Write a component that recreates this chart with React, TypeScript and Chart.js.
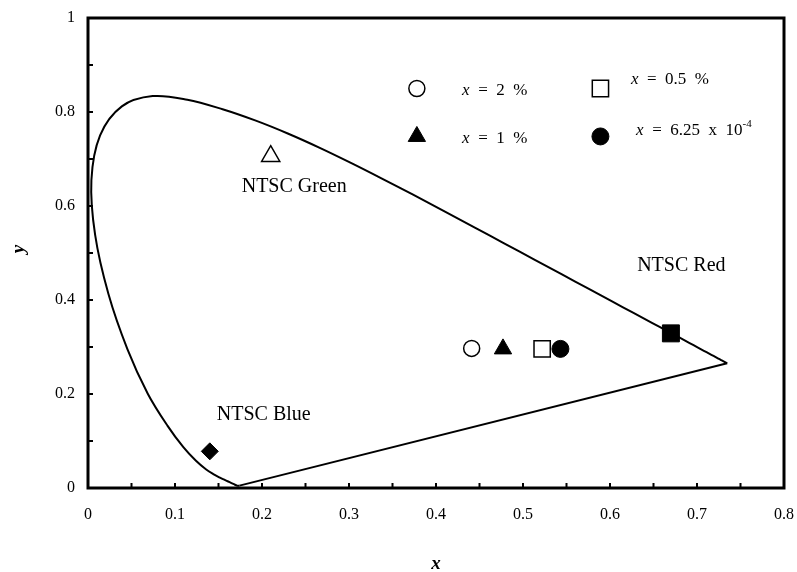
import { useEffect, useRef } from "react";
import { Chart, registerables } from "chart.js";
Chart.register(...registerables);

// CIE 1931 spectral locus (380–700 nm, 5 nm steps)
const locusX = [0.1741,0.1740,0.1738,0.1736,0.1733,0.1730,0.1726,0.1721,0.1714,0.1703,0.1689,0.1669,0.1644,0.1611,0.1566,0.1510,0.1440,0.1355,0.1241,0.1096,0.0913,0.0687,0.0454,0.0235,0.0082,0.0039,0.0139,0.0389,0.0743,0.1142,0.1547,0.1929,0.2296,0.2658,0.3016,0.3373,0.3731,0.4087,0.4441,0.4788,0.5125,0.5448,0.5752,0.6029,0.6270,0.6482,0.6658,0.6801,0.6915,0.7006,0.7079,0.7140,0.7190,0.7230,0.7260,0.7283,0.7300,0.7311,0.7320,0.7327,0.7334,0.7340,0.7344,0.7346,0.7347];
const locusY = [0.0050,0.0050,0.0049,0.0049,0.0048,0.0048,0.0048,0.0048,0.0051,0.0058,0.0069,0.0086,0.0109,0.0138,0.0177,0.0227,0.0297,0.0399,0.0578,0.0868,0.1327,0.2007,0.2950,0.4127,0.5384,0.6548,0.7502,0.8120,0.8338,0.8262,0.8059,0.7816,0.7543,0.7243,0.6923,0.6589,0.6245,0.5896,0.5547,0.5202,0.4866,0.4544,0.4242,0.3965,0.3725,0.3514,0.3340,0.3197,0.3083,0.2993,0.2920,0.2859,0.2809,0.2770,0.2740,0.2717,0.2700,0.2689,0.2680,0.2673,0.2666,0.2660,0.2656,0.2654,0.2653];

// NTSC primaries
const ntscLabels = ["NTSC Green", "NTSC Red", "NTSC Blue"];
const ntscX = [0.21, 0.67, 0.14];
const ntscY = [0.706, 0.329, 0.078];

// samples
const sampleLabels = ["x = 2 %", "x = 1 %", "x = 0.5 %", "x = 6.25 x 10^-4"];
const sampleX = [0.441, 0.477, 0.522, 0.543];
const sampleY = [0.297, 0.296, 0.296, 0.296];

const xTickLabels = ["0", "0.1", "0.2", "0.3", "0.4", "0.5", "0.6", "0.7", "0.8"];
const yTickLabels = ["0", "0.2", "0.4", "0.6", "0.8", "1"];

const SERIF = "'Liberation Serif', 'Times New Roman', serif";

type MarkerStyle = { style: string; r: number; fill: string; stroke: string; bw: number };
const sampleStyles: MarkerStyle[] = [
  { style: "circle", r: 8, fill: "#fff", stroke: "#000", bw: 1.5 },
  { style: "triangle", r: 10, fill: "#000", stroke: "#000", bw: 1 },
  { style: "rect", r: 11.5, fill: "#fff", stroke: "#000", bw: 1.5 },
  { style: "circle", r: 8.5, fill: "#000", stroke: "#000", bw: 1 },
];
const ntscStyles: MarkerStyle[] = [
  { style: "triangle", r: 10.5, fill: "#fff", stroke: "#000", bw: 1.5 },
  { style: "rect", r: 12, fill: "#000", stroke: "#000", bw: 1 },
  { style: "rectRot", r: 8.5, fill: "#000", stroke: "#000", bw: 1 },
];

function drawMarker(ctx: CanvasRenderingContext2D, m: MarkerStyle, x: number, y: number) {
  ctx.save();
  ctx.beginPath();
  const r = m.r;
  if (m.style === "circle") {
    ctx.arc(x, y, r, 0, Math.PI * 2);
  } else if (m.style === "triangle") {
    ctx.moveTo(x, y - r);
    ctx.lineTo(x + r * Math.sin((2 * Math.PI) / 3), y - r * Math.cos((2 * Math.PI) / 3));
    ctx.lineTo(x + r * Math.sin((4 * Math.PI) / 3), y - r * Math.cos((4 * Math.PI) / 3));
    ctx.closePath();
  } else if (m.style === "rect") {
    const s = r * Math.SQRT1_2;
    ctx.rect(x - s, y - s, 2 * s, 2 * s);
  }
  ctx.fillStyle = m.fill;
  ctx.fill();
  ctx.lineWidth = m.bw;
  ctx.strokeStyle = m.stroke;
  ctx.stroke();
  ctx.restore();
}

// draw "x = ..." with italic x and an optional superscript after "^"
function drawLegendText(ctx: CanvasRenderingContext2D, text: string, x: number, y: number) {
  const [base, sup] = text.split("^");
  const rest = base.slice(1);
  ctx.save();
  ctx.textBaseline = "alphabetic";
  ctx.textAlign = "left";
  ctx.fillStyle = "#000";
  ctx.font = `italic 17px ${SERIF}`;
  ctx.fillText("x", x, y);
  let cx = x + ctx.measureText("x").width;
  ctx.font = `17px ${SERIF}`;
  const wide = rest.replace(/ /g, "  ");
  ctx.fillText(wide, cx, y);
  cx += ctx.measureText(wide).width;
  if (sup) {
    ctx.font = `11px ${SERIF}`;
    ctx.fillText(sup, cx, y - 8);
  }
  ctx.restore();
}

const decorPlugin = {
  id: "decor",
  afterDraw(chart: any) {
    const { ctx, chartArea: a, scales } = chart;
    const xs = scales.x;
    const ys = scales.y;
    ctx.save();
    // inward ticks
    ctx.strokeStyle = "#000";
    ctx.lineWidth = 2;
    ctx.beginPath();
    for (let i = 1; i < 16; i++) {
      const px = xs.getPixelForValue(i * 0.05);
      ctx.moveTo(px, a.bottom);
      ctx.lineTo(px, a.bottom - 5);
    }
    for (let i = 1; i < 10; i++) {
      const py = ys.getPixelForValue(i * 0.1);
      ctx.moveTo(a.left, py);
      ctx.lineTo(a.left + 5, py);
    }
    ctx.stroke();
    // frame
    ctx.lineWidth = 3;
    ctx.strokeRect(a.left, a.top, a.right - a.left, a.bottom - a.top);

    // primary labels
    ctx.fillStyle = "#000";
    ctx.font = `20px ${SERIF}`;
    ctx.textAlign = "center";
    ctx.textBaseline = "middle";
    const labelPos = [
      [0.237, 0.642],
      [0.682, 0.473],
      [0.202, 0.155],
    ];
    ntscLabels.forEach((t, i) => {
      ctx.fillText(t, xs.getPixelForValue(labelPos[i][0]), ys.getPixelForValue(labelPos[i][1]));
    });

    // legend
    const legendMarker = [
      [0.378, 0.85],
      [0.378, 0.748],
      [0.589, 0.85],
      [0.589, 0.748],
    ];
    const legendText = [
      [0.43, 0.836],
      [0.43, 0.733],
      [0.624, 0.86],
      [0.63, 0.752],
    ];
    sampleLabels.forEach((t, i) => {
      drawMarker(ctx, sampleStyles[i], xs.getPixelForValue(legendMarker[i][0]), ys.getPixelForValue(legendMarker[i][1]));
      drawLegendText(ctx, t, xs.getPixelForValue(legendText[i][0]), ys.getPixelForValue(legendText[i][1]));
    });

    // axis titles
    ctx.font = `italic bold 19px ${SERIF}`;
    ctx.textAlign = "center";
    ctx.textBaseline = "middle";
    ctx.fillText("x", (a.left + a.right) / 2, 564);
    ctx.save();
    ctx.translate(19, 249);
    ctx.rotate(-Math.PI / 2);
    ctx.fillText("y", 0, 0);
    ctx.restore();
    ctx.restore();
  },
};

export default function App() {
  const ref = useRef<HTMLCanvasElement | null>(null);
  useEffect(() => {
    if (!ref.current) return;
    const toDs = (label: string, x: number, y: number, m: MarkerStyle) => ({
      type: "scatter" as const,
      label,
      data: [{ x, y }],
      pointStyle: m.style,
      pointRadius: m.r,
      backgroundColor: m.fill,
      borderColor: m.stroke,
      borderWidth: m.bw,
    });
    const last = locusX.length - 1;
    const datasets: any[] = [
      {
        type: "scatter",
        label: "spectral locus",
        data: locusX.map((x, i) => ({ x, y: locusY[i] })),
        showLine: true,
        pointRadius: 0,
        borderColor: "#000",
        borderWidth: 2,
        tension: 0.35,
        fill: false,
      },
      {
        type: "scatter",
        label: "purple line",
        data: [
          { x: locusX[last], y: locusY[last] },
          { x: locusX[0], y: locusY[0] },
        ],
        showLine: true,
        pointRadius: 0,
        borderColor: "#000",
        borderWidth: 2,
        tension: 0,
        fill: false,
      },
      ...ntscLabels.map((l, i) => toDs(l, ntscX[i], ntscY[i], ntscStyles[i])),
      ...sampleLabels.map((l, i) => toDs(l, sampleX[i], sampleY[i], sampleStyles[i])),
    ];
    const chart = new Chart(ref.current, {
      type: "scatter",
      data: { datasets },
      options: {
        animation: false,
        responsive: false,
        layout: { padding: { left: 0, right: 10, top: 18, bottom: 0 } },
        plugins: { legend: { display: false }, tooltip: { enabled: false } },
        scales: {
          x: {
            type: "linear",
            min: 0,
            max: 0.8,
            afterFit: (s: any) => {
              s.height = 84;
              s.paddingLeft = 0;
              s.paddingRight = 0;
            },
            afterBuildTicks: (s: any) => {
              s.ticks = xTickLabels.map((t) => ({ value: parseFloat(t) }));
            },
            grid: { display: false, drawTicks: false },
            border: { display: false },
            ticks: {
              padding: 17,
              color: "#000",
              font: { family: SERIF, size: 16 },
              callback: (v: any) => xTickLabels.find((t) => Math.abs(parseFloat(t) - v) < 1e-6) ?? "",
            },
          },
          y: {
            type: "linear",
            min: 0,
            max: 1,
            afterFit: (s: any) => {
              s.width = 88;
              s.paddingTop = 0;
              s.paddingBottom = 0;
            },
            afterBuildTicks: (s: any) => {
              s.ticks = yTickLabels.map((t) => ({ value: parseFloat(t) }));
            },
            grid: { display: false, drawTicks: false },
            border: { display: false },
            ticks: {
              padding: 13,
              color: "#000",
              font: { family: SERIF, size: 16 },
              callback: (v: any) => yTickLabels.find((t) => Math.abs(parseFloat(t) - v) < 1e-6) ?? "",
            },
          },
        },
      },
      plugins: [decorPlugin],
    });
    return () => chart.destroy();
  }, []);
  return (
    <div style={{ position: "absolute", left: 0, top: 0, width: 797, height: 572, background: "#fff" }}>
      <canvas ref={ref} width={797} height={572} />
    </div>
  );
}
